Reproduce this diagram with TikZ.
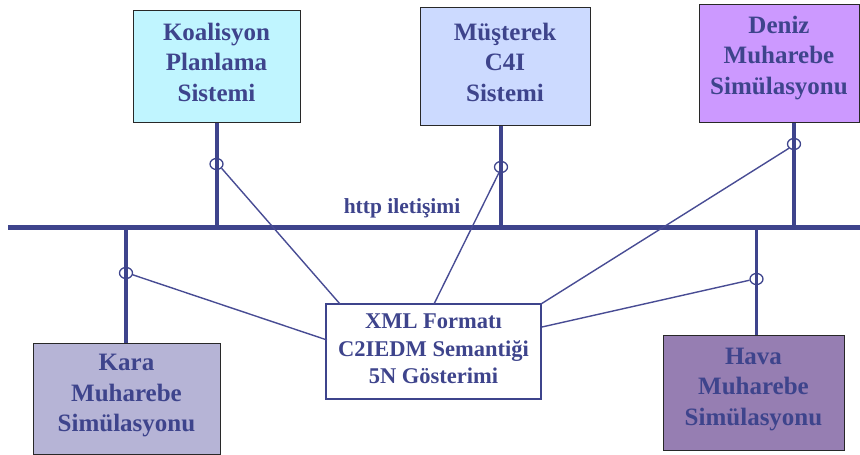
\documentclass[tikz,border=0pt]{standalone}
\usepackage{fontspec}
\setmainfont{Liberation Serif}
\usetikzlibrary{shapes.geometric}
\definecolor{navy}{RGB}{62,68,140}
\definecolor{diag}{RGB}{72,76,148}
\definecolor{fkoal}{RGB}{192,245,255}
\definecolor{fmust}{RGB}{204,218,255}
\definecolor{fdeniz}{RGB}{204,153,255}
\definecolor{fkara}{RGB}{182,180,214}
\definecolor{fhava}{RGB}{150,126,178}
\definecolor{bord}{RGB}{40,40,40}
\tikzset{
  sysbox/.style={draw=bord, line width=1pt, rectangle, inner sep=0pt},
  systext/.style={align=center, text=navy, inner sep=0pt,
    font=\fontsize{25}{30.5}\selectfont\bfseries},
  centerbox/.style={draw=navy, line width=1.2pt, fill=white, rectangle, inner sep=0pt},
  centertext/.style={align=center, text=navy, inner sep=0pt,
    font=\fontsize{22.5}{27.5}\selectfont\bfseries},
  tap/.style={draw=navy, line width=1.3pt, ellipse, minimum width=13pt, minimum height=11pt, inner sep=0pt},
  busline/.style={navy, line width=5pt},
  dropline/.style={navy, line width=3.5pt},
  linkline/.style={diag, line width=1.4pt}
}
\begin{document}
\begin{tikzpicture}[x=1pt,y=-1pt]
\useasboundingbox (0,0) rectangle (860,455);
% boxes
\node[sysbox, fill=fkoal, minimum width=167pt, minimum height=112pt] (koal) at (216.5,66) {};
\node[systext] (koalT) at (216.5,62) {Koalisyon\\Planlama\\Sistemi};
\node[sysbox, fill=fmust, minimum width=170pt, minimum height=118pt] (must) at (505,66) {};
\node[systext] (mustT) at (505,62) {Müşterek\\C4I\\Sistemi};
\node[sysbox, fill=fdeniz, minimum width=160pt, minimum height=118pt] (deniz) at (779,63) {};
\node[systext] (denizT) at (779,58) {Deniz\\Muharebe\\Simülasyonu};
\node[sysbox, fill=fkara, minimum width=187pt, minimum height=111pt] (kara) at (126.5,398.5) {};
\node[systext] (karaT) at (126.5,396) {Kara\\Muharebe\\Simülasyonu};
\node[sysbox, fill=fhava, minimum width=181pt, minimum height=115pt] (hava) at (753.5,392.5) {};
\node[systext] (havaT) at (753.5,389.5) {Hava\\Muharebe\\Simülasyonu};
\node[centerbox, minimum width=215pt, minimum height=95pt] (xml) at (433.5,351.5) {};
\node[centertext] (xmlT) at (433.5,349) {XML Formatı\\C2IEDM Semantiği\\5N Gösterimi};
% bus
\coordinate (busL) at (8,227.5);
\coordinate (busR) at (860,227.5);
\draw[busline] (busL) -- (busR);
\node[text=navy, font=\fontsize{21.5}{25}\selectfont\bfseries, inner sep=0pt] (http) at (402,208.5) {http iletişimi};
% drop lines
\coordinate (bk) at (217,228);
\coordinate (bm) at (501,228);
\coordinate (bd) at (794,225);
\coordinate (bka) at (126,228);
\coordinate (bh) at (756.5,228);
\draw[dropline] (koal.south -| bk) -- (bk);
\draw[dropline] (must.south -| bm) -- (bm);
\draw[dropline] (deniz.south -| bd) -- (bd);
\draw[dropline] (kara.north -| bka) -- (bka);
\draw[dropline] (hava.north -| bh) -- (bh);
% taps
\node[tap] (tk) at (216.5,164) {};
\node[tap] (tm) at (501,167) {};
\node[tap] (td) at (794,144) {};
\node[tap] (tka) at (126,273) {};
\node[tap] (th) at (756.5,279) {};
% link endpoints on center box
\coordinate (xk) at (340,304);
\coordinate (xm) at (434,304);
\coordinate (xd) at (541,304);
\coordinate (xka) at (327,340);
\coordinate (xh) at (542,327);
\draw[linkline] (tk.-40) -- (xk);
\draw[linkline] (tm.-110) -- (xm);
\draw[linkline] (td.-140) -- (xd);
\draw[linkline] (tka.-15) -- (xka);
\draw[linkline] (th.190) -- (xh);
\end{tikzpicture}
\end{document}
